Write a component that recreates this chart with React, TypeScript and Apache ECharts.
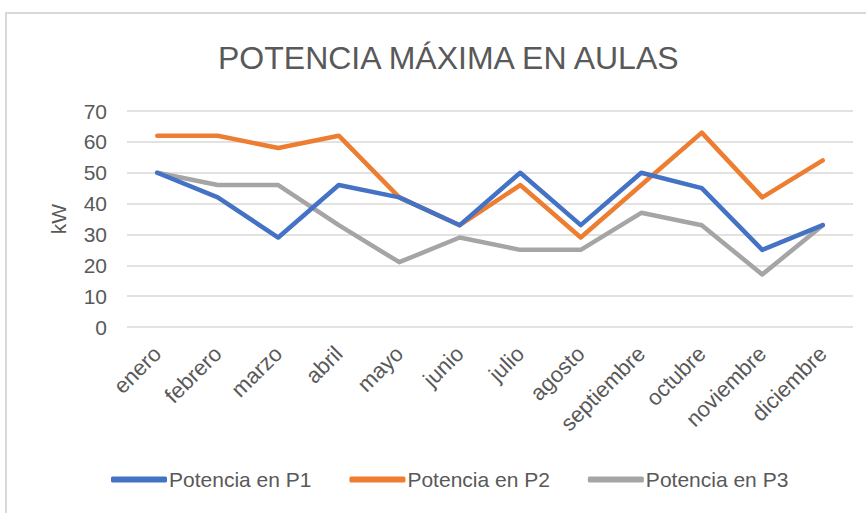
import React, { useEffect, useRef } from "react";
import * as echarts from "echarts";

const categories = ["enero", "febrero", "marzo", "abril", "mayo", "junio", "julio", "agosto", "septiembre", "octubre", "noviembre", "diciembre"];
const p1 = [50, 42, 29, 46, 42, 33, 50, 33, 50, 45, 25, 33];
const p2 = [62, 62, 58, 62, 42, 33, 46, 29, 46, 63, 42, 54];
const p3 = [50, 46, 46, 33, 21, 29, 25, 25, 37, 33, 17, 33];
const seriesNames = ["Potencia en P1", "Potencia en P2", "Potencia en P3"];
const colors = ["#4472C4", "#ED7D31", "#A5A5A5"];

export default function App() {
  const ref = useRef<HTMLDivElement>(null);
  useEffect(() => {
    const chart = echarts.init(ref.current!, undefined, { renderer: "svg" });
    const font = "Liberation Sans";
    const data = [p1, p2, p3];
    chart.setOption({
      animation: false,
      backgroundColor: "#fff",
      title: {
        text: "POTENCIA MÁXIMA EN AULAS",
        left: 213,
        top: 37,
        textStyle: { fontFamily: font, fontSize: 32, fontWeight: "normal", color: "#595959" },
      },
      grid: { left: 127, right: 14, top: 111, bottom: 186 },
      legend: {
        bottom: 18,
        left: 106,
        itemWidth: 56,
        itemHeight: 6,
        itemGap: 38,
        icon: "roundRect",
        textStyle: { fontFamily: font, fontSize: 21, color: "#595959", padding: [0, 0, 0, -3] },
        data: seriesNames,
      },
      xAxis: {
        type: "category",
        data: categories,
        boundaryGap: true,
        axisLine: { show: false },
        axisTick: { show: false },
        axisLabel: { rotate: 45, fontFamily: font, fontSize: 22, color: "#595959", margin: 23 },
      },
      yAxis: {
        type: "value",
        min: 0,
        max: 70,
        interval: 10,
        name: "kW",
        nameLocation: "middle",
        nameGap: 58,
        nameTextStyle: { fontFamily: font, fontSize: 21, color: "#595959" },
        axisLabel: { fontFamily: font, fontSize: 21, color: "#595959", margin: 20 },
        splitLine: { lineStyle: { color: "#D9D9D9", width: 1.5 } },
      },
      graphic: [
        {
          type: "polyline",
          shape: { points: [[6, 513], [6, 13], [866, 13]] },
          style: { stroke: "#D9D9D9", lineWidth: 2, fill: "none" },
          silent: true,
        },
      ],
      series: data.map((d, i) => ({
        name: seriesNames[i],
        type: "line",
        data: d,
        symbol: "none",
        color: colors[i],
        lineStyle: { width: 4.5, color: colors[i], cap: "round", join: "round" },
        z: 3 - i,
      })),
    });
    return () => chart.dispose();
  }, []);
  return <div ref={ref} style={{ position: "fixed", left: 0, top: 0, width: 867, height: 513 }} />;
}
